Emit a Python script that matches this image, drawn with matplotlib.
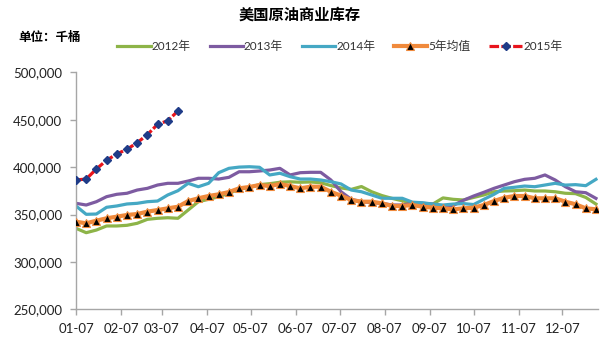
import numpy as np
import pandas as pd
import matplotlib
matplotlib.use("Agg")
import matplotlib.pyplot as plt
from matplotlib.ticker import FuncFormatter

plt.rcParams['font.family'] = ['Lato', 'Noto Sans CJK SC', 'DejaVu Sans']

# ---- data (thousand barrels) ----
dates = pd.date_range("2015-01-07", periods=52, freq="7D")
tick_dates = pd.date_range("2015-01-01", periods=12, freq="MS") + pd.Timedelta(days=6)
tick_labels = ["01-07", "02-07", "03-07", "04-07", "05-07", "06-07",
               "07-07", "08-07", "09-07", "10-07", "11-07", "12-07"]

y2012 = [335.4, 330.8, 333.6, 337.9, 337.9, 338.6, 340.7, 344.9, 346.0, 346.6,
         346.0, 354.7, 363.5, 366.0, 368.8, 372.4, 376.6, 378.7, 381.5, 382.5,
         384.0, 384.5, 384.0, 384.3, 383.5, 380.5, 378.0, 376.5, 379.5, 374.0,
         370.0, 367.0, 364.5, 362.0, 361.0, 361.0, 367.5, 366.0, 365.3, 368.0,
         370.6, 374.0, 374.8, 375.1, 375.8, 374.8, 374.8, 374.0, 372.4, 372.0,
         368.0, 361.0]
y2013 = [361.8, 360.0, 363.5, 368.8, 371.3, 372.4, 375.8, 377.6, 381.1, 382.9,
         382.9, 385.3, 388.2, 388.2, 387.4, 389.2, 395.1, 395.1, 395.9, 396.9,
         398.7, 391.7, 394.1, 394.5, 394.5, 386.4, 374.0, 366.0, 363.5, 362.4,
         361.8, 360.0, 360.0, 361.8, 361.8, 361.0, 358.5, 359.5, 365.0, 369.5,
         373.4, 377.6, 381.1, 384.6, 387.1, 388.2, 391.7, 386.4, 379.3, 374.0,
         373.0, 367.0]
y2014 = [359.0, 350.2, 350.5, 357.6, 359.0, 361.1, 361.8, 363.5, 364.2, 370.6,
         375.1, 382.9, 379.3, 382.9, 394.1, 398.7, 400.0, 400.4, 399.8, 391.7,
         393.5, 389.9, 387.4, 387.4, 386.4, 384.6, 382.2, 375.8, 374.0, 370.6,
         367.1, 367.1, 367.1, 363.0, 362.4, 361.0, 360.0, 361.0, 361.5, 360.5,
         366.0, 371.3, 377.6, 378.7, 380.0, 379.3, 381.1, 382.9, 381.0, 381.5,
         380.4, 387.1]
avg5 = [342.4, 340.7, 343.5, 346.0, 347.7, 349.5, 350.5, 353.0, 354.7, 356.5,
        358.2, 364.2, 367.1, 369.5, 371.3, 373.7, 377.6, 379.0, 381.1, 380.0,
        382.2, 380.0, 377.6, 379.3, 379.3, 374.0, 369.8, 365.3, 363.5, 363.5,
        361.8, 359.0, 359.0, 360.0, 358.2, 357.2, 356.5, 355.5, 356.5, 357.2,
        360.0, 364.2, 367.7, 369.5, 369.5, 367.1, 367.1, 367.1, 363.5, 360.8,
        356.5, 355.5]
y2015 = [386.4, 387.4, 398.0, 407.2, 413.8, 418.8, 425.7, 434.2, 445.1, 448.9,
         459.2]

# ---- figure ----
fig = plt.figure(figsize=(6.0, 3.41), dpi=100)
ax = fig.add_axes([76/600, 1 - 309.3/341, 522/600, (309.3 - 72.3)/341])

k = 1000
ax.plot(dates, np.array(y2012) * k, color='#8DB448', lw=2.3, label='2012年', zorder=2)
ax.plot(dates, np.array(y2013) * k, color='#7D5BA1', lw=2.3, label='2013年', zorder=2)
ax.plot(dates, np.array(y2014) * k, color='#45A8C4', lw=2.3, label='2014年', zorder=2)
ax.plot(dates, np.array(avg5) * k, color='#F08A3C', lw=3.0, marker='^', ms=6,
        mfc='black', mec='#F08A3C', mew=0.8, label='5年均值', zorder=3)
ax.plot(dates[:len(y2015)], np.array(y2015) * k, color='#E8141C', lw=2.3,
        ls=(0, (3.0, 0.7)), marker='D', ms=4.5, mfc='#1F3C88', mec='#1F3C88',
        label='2015年', zorder=4)

ax.set_ylim(250000, 500000)
ax.set_yticks(np.arange(250000, 500001, 50000))
ax.yaxis.set_major_formatter(FuncFormatter(lambda v, p: f"{int(v):,}"))
ax.set_xlim(dates[0], dates[0] + pd.Timedelta(days=51.2 * 7))
ax.set_xticks(tick_dates)
ax.set_xticklabels(tick_labels)

for s in ['top', 'right']:
    ax.spines[s].set_visible(False)
for s in ['left', 'bottom']:
    ax.spines[s].set_color('#A6A6A6')
    ax.spines[s].set_linewidth(1.0)
ax.tick_params(axis='both', colors='#A6A6A6', labelcolor='#222222',
               labelsize=9.5, length=4, width=1.0)
ax.tick_params(axis='x', pad=6)
ax.tick_params(axis='y', pad=6)

fig.text(0.5, 1 - 15/341, '美国原油商业库存', ha='center', va='center',
         fontsize=11, fontweight='bold', family=['Noto Sans CJK SC', 'DejaVu Sans'])
fig.text(18/600, 1 - 37/341, '单位：千桶', ha='left', va='center',
         fontsize=9, fontweight='bold', family=['Noto Sans CJK SC', 'DejaVu Sans'])

leg = fig.legend(loc='center', bbox_to_anchor=(340/600, 1 - 46/341), ncol=5,
                 frameon=False, handlelength=2.8, handletextpad=0.1,
                 columnspacing=1.6, borderaxespad=0,
                 prop={'family': ['Lato', 'Noto Sans CJK SC'], 'size': 8.5})
for t in leg.get_texts():
    t.set_color('#333333')

fig.savefig('out.png', dpi=100)
